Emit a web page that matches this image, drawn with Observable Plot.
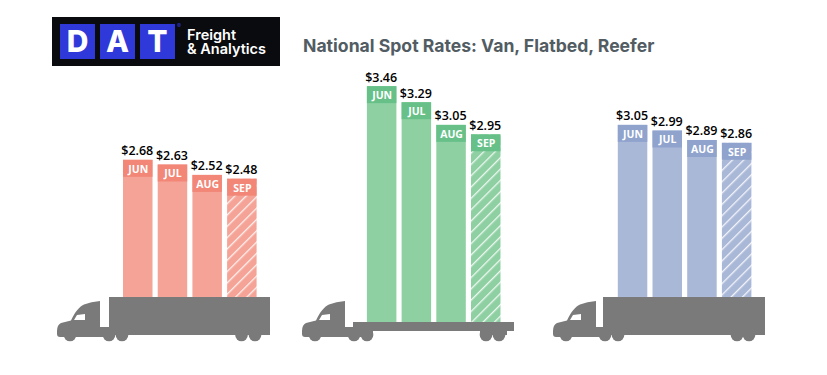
<!DOCTYPE html>
<html><head><meta charset="utf-8">
<script src="https://cdn.jsdelivr.net/npm/d3@7"></script>
<script src="https://cdn.jsdelivr.net/npm/@observablehq/plot@0.6"></script>
<style>
html,body{margin:0;padding:0;background:#fff}
#wrap{position:relative;width:827px;height:375px;overflow:hidden}
#title{position:absolute;left:303px;top:35px;font:700 17.6px/22px Inter,sans-serif;color:#525c63;white-space:nowrap}
#logo{position:absolute;left:52px;top:17px;width:228px;height:49px;background:#0a0b0f}
#logo .sq{position:absolute;top:7px;width:35px;height:35px;background:#2f38d8;color:#fff;font:800 30px/35px Inter,sans-serif;text-align:center}
#logo .reg{position:absolute;left:125px;top:5px;font:400 6px/7px Inter,sans-serif;color:#2f38d8}
#logo .t{position:absolute;left:135px;top:11px;color:#fff;font:600 14.5px/13.5px Inter,sans-serif;white-space:nowrap}
</style></head><body>
<div id="wrap">
<div id="logo"><div class="sq" style="left:8px">D</div><div class="sq" style="left:48px">A</div><div class="sq" style="left:88px">T</div><div class="reg">®</div><div class="t">Freight<br>&amp; Analytics</div></div>
<div id="title">National Spot Rates: Van, Flatbed, Reefer</div>
<div id="chart"></div>
</div>
<script>
const months = ["JUN","JUL","AUG","SEP"];
const panels = ["Van","Flatbed","Reefer"];
const vanRates = [2.68,2.63,2.52,2.48];
const flatbedRates = [3.46,3.29,3.05,2.95];
const reeferRates = [3.05,2.99,2.89,2.86];
const rates = [vanRates,flatbedRates,reeferRates];
const deckLevels = [1.227,0.962,1.227];
const headerDepth = 0.18;
const fills = ["#f5a396","#8fd0a3","#aab8d8"];
const headerFills = ["#f28677","#66c088","#8fa3cd"];
const panelShift = [0,1,9];
const truckLeft = [57,302,553];
const trailerSpan = [[52,213],[null,null],[50,212]];
const rearWheels = [[184.5,198],[184,197],[184,196]];

const slots = [];
panels.forEach((p,i)=>{ months.forEach(m=>slots.push(p+"-"+m)); if(i<2) for(let g=0;g<3;g++) slots.push("gap-"+i+"-"+g); });

const tractor = "M0,30 Q0,24 4,22 L14,19.5 C18,11 22,6 27,3.5 Q34,.5 43,0 L43,26 L52,26 L52,36 L3,36 Q0,36 0,33 Z";
const windowPath = "M17,19 L20,14 L28,13 L28,19 Z";
const truckMark = () => {
  const g = d3.create("svg:g");
  const defs = g.append("defs");
  panels.forEach((p,i)=>{
    const pat = defs.append("pattern").attr("id","hatch"+i).attr("patternUnits","userSpaceOnUse").attr("width",8).attr("height",8).attr("patternTransform","rotate(45)");
    pat.append("rect").attr("width",8).attr("height",8).attr("fill",fills[i]);
    pat.append("rect").attr("width",1.3).attr("height",8).attr("fill","#fff").attr("fill-opacity",.85);
  });
  panels.forEach((p,i)=>{
    const t = g.append("g").attr("transform",`translate(${truckLeft[i]},301)`).attr("fill","#7a7a7a");
    t.append("path").attr("d",tractor);
    t.append("path").attr("d",windowPath).attr("fill","#fff");
    [13,52,65,...rearWheels[i]].forEach(x=>t.append("circle").attr("cx",x).attr("cy",34).attr("r",6.3));
    if(i===1){
      t.append("rect").attr("x",51).attr("y",21).attr("width",161).attr("height",9);
      t.append("rect").attr("x",43).attr("y",26).attr("width",28).attr("height",10);
      t.append("rect").attr("x",178).attr("y",26).attr("width",27).attr("height",8);
    } else {
      t.append("rect").attr("x",trailerSpan[i][0]).attr("y",-4).attr("width",trailerSpan[i][1]-trailerSpan[i][0]).attr("height",38);
    }
  });
  return g.node();
};

const marks = [truckMark];
panels.forEach((p,i)=>{
  const rows = months.map((m,j)=>({slot:p+"-"+m, month:m, rate:rates[i][j], deck:deckLevels[i], head:rates[i][j]-headerDepth}));
  const solid = rows.slice(0,3), projected = rows.slice(3);
  const dx = panelShift[i];
  marks.push(
    Plot.barY(solid,{x:"slot",y1:"deck",y2:"rate",fill:fills[i],dx}),
    Plot.barY(projected,{x:"slot",y1:"deck",y2:"rate",fill:`url(#hatch${i})`,dx}),
    Plot.barY(rows,{x:"slot",y1:"head",y2:"rate",fill:headerFills[i],dx}),
    Plot.text(rows,{x:"slot",y:"rate",text:"month",dy:9,dx,fill:"#fff",fontWeight:700,fontSize:10.5,fontFamily:"Open Sans"}),
    Plot.text(rows,{x:"slot",y:"rate",text:d=>"$"+d.rate.toFixed(2),dy:-9,dx:dx-1,fill:"#000",fontSize:12.5,fontWeight:600,fontFamily:"Open Sans"})
  );
});

document.getElementById("chart").append(Plot.plot({
  width:827,height:375,margin:0,
  style:{background:"transparent"},
  x:{type:"band",domain:slots,range:[117.8,747.6],padding:.15,round:false,axis:null},
  y:{type:"linear",domain:[1,3.5],range:[318.4,82.4],axis:null},
  marks
}));
</script>
</body></html>
